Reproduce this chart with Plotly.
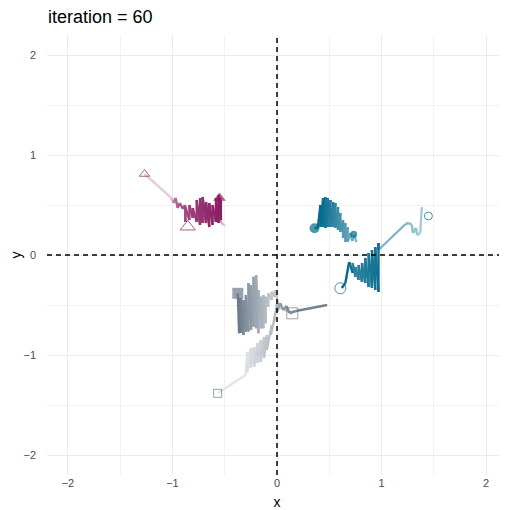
import plotly.graph_objects as go

# ---------------- data ----------------
# magenta (triangles)
m1_x = [-1.01, -0.99, -0.97, -0.95, -0.93, -0.90, -0.88, -0.876, -0.876, -0.838, -0.838,
        -0.806, -0.806, -0.768, -0.768, -0.736, -0.736, -0.711, -0.711, -0.679, -0.679,
        -0.648, -0.648, -0.616, -0.616, -0.584, -0.584, -0.559, -0.559, -0.537, -0.537, -0.55]
m1_y = [0.57, 0.52, 0.57, 0.47, 0.52, 0.46, 0.50, 0.33, 0.48, 0.35, 0.50,
        0.37, 0.47, 0.33, 0.55, 0.30, 0.57, 0.32, 0.58, 0.32, 0.53,
        0.28, 0.52, 0.30, 0.50, 0.33, 0.57, 0.32, 0.60, 0.35, 0.55, 0.57]
m0_x = [-1.267, -1.01]
m0_y = [0.81, 0.57]
m2_x = [-0.49, -0.51, -0.53, -0.545]
m2_y = [0.29, 0.30, 0.32, 0.35]

# teal (circles)
t1_x = [1.385, 1.37, 1.34, 1.33, 1.30, 1.29, 1.26, 1.23, 0.97]
t1_y = [0.48, 0.22, 0.20, 0.27, 0.22, 0.30, 0.32, 0.31, 0.05]
t1b_x = [0.97, 0.971, 0.971, 0.94, 0.94, 0.908, 0.908, 0.876, 0.876, 0.844, 0.844,
         0.813, 0.813, 0.78, 0.78, 0.75, 0.75, 0.724, 0.724]
t1b_y = [0.05, 0.12, -0.37, 0.08, -0.35, 0.05, -0.33, 0.02, -0.32, -0.03, -0.28,
         -0.08, -0.27, -0.10, -0.25, -0.12, -0.22, -0.08, -0.18]
t2_x = [0.724, 0.70, 0.69, 0.654, 0.62]
t2_y = [-0.18, -0.10, -0.07, -0.28, -0.33]
t3_x = [0.76, 0.74, 0.72, 0.70, 0.676, 0.676, 0.654, 0.654, 0.632, 0.632, 0.606, 0.606,
        0.584, 0.584, 0.559, 0.559, 0.537, 0.537, 0.511, 0.511, 0.486, 0.486, 0.463, 0.463,
        0.441, 0.441, 0.416, 0.416, 0.39, 0.36]
t3_y = [0.13, 0.20, 0.14, 0.22, 0.13, 0.28, 0.13, 0.32, 0.17, 0.35, 0.23, 0.42,
        0.25, 0.48, 0.27, 0.52, 0.28, 0.53, 0.28, 0.55, 0.28, 0.57, 0.27, 0.58,
        0.28, 0.57, 0.28, 0.50, 0.27, 0.27]

# slate (squares)
s1_x = [-0.568, -0.30, -0.283, -0.283, -0.251, -0.251, -0.219, -0.219, -0.187, -0.187,
        -0.156, -0.156, -0.124, -0.124, -0.098, -0.098, -0.05, -0.06, -0.02, -0.03,
        0.003, 0.003]
s1_y = [-1.383, -1.20, -0.97, -1.17, -0.93, -1.13, -0.92, -1.12, -0.88, -1.08,
        -0.85, -1.07, -0.82, -1.03, -0.80, -0.95, -0.70, -0.80, -0.62, -0.66,
        -0.48, -0.567]
s1b_x = [0.003, 0.03, 0.06, 0.09, 0.12, 0.18, 0.48]
s1b_y = [-0.567, -0.48, -0.55, -0.51, -0.58, -0.56, -0.50]
s2_x = [0.146, 0.02, -0.019, -0.019, -0.051, -0.051, -0.083, -0.083, -0.108, -0.108,
        -0.130, -0.130, -0.152, -0.152, -0.178, -0.178, -0.200, -0.200, -0.225, -0.225,
        -0.248, -0.248, -0.273, -0.273, -0.298, -0.298, -0.321, -0.321, -0.345, -0.345,
        -0.362, -0.362, -0.375]
s2_y = [-0.583, -0.52, -0.35, -0.42, -0.367, -0.45, -0.383, -0.517, -0.417, -0.683,
        -0.40, -0.733, -0.417, -0.733, -0.35, -0.783, -0.20, -0.733, -0.217, -0.717,
        -0.30, -0.75, -0.283, -0.767, -0.40, -0.767, -0.45, -0.80, -0.43, -0.78,
        -0.433, -0.783, -0.383]

# start (open) and current (filled) points
open_pts = {
    "maroon": ([-1.267, -0.854], [0.81, 0.283]),
    "teal": ([1.448, 0.606], [0.39, -0.333]),
    "slate": ([-0.568, 0.146], [-1.383, -0.583]),
}
filled_pts = {
    "maroon": ([-0.55], [0.57]),
    "teal": ([0.359, 0.733], [0.267, 0.207]),
    "slate": ([-0.375], [-0.383]),
}

title_text = "iteration = 60"
tick_vals = [-2, -1, 0, 1, 2]
tick_text = ["\u22122", "\u22121", "0", "1", "2"]

# ---------------- styles ----------------
COL = {"maroon": "#8B1C62", "teal": "#00688B", "slate": "#6C7B8B"}
SYM = {"maroon": "triangle-up", "teal": "circle", "slate": "square"}
open_sizes = {"maroon": [9, 13], "teal": [8, 11], "slate": [8, 11]}
filled_sizes = {"maroon": [11], "teal": [10, 7], "slate": [11]}
FONT = "Liberation Sans, Arial, sans-serif"

# the page body has an 8px default margin, so the figure is drawn 8px in
PAGE_OFF = 8
W, H = 507 - PAGE_OFF, 510 - PAGE_OFF


def blend(hexcol, a):
    r, g, b = int(hexcol[1:3], 16), int(hexcol[3:5], 16), int(hexcol[5:7], 16)
    f = lambda c: int(round(255 + (c - 255) * a))
    return f"rgb({f(r)},{f(g)},{f(b)})"


# (x, y, colour key, start alpha, end alpha, ramp exponent)
trails = [
    (m0_x, m0_y, "maroon", 0.22, 0.25, 1.0),
    (m1_x, m1_y, "maroon", 0.35, 1.0, 0.25),
    (m2_x, m2_y, "maroon", 0.2, 0.45, 1.0),
    (t1_x, t1_y, "teal", 0.35, 0.5, 1.0),
    (t1b_x, t1b_y, "teal", 0.95, 0.8, 1.0),
    (t2_x, t2_y, "teal", 0.95, 1.0, 1.0),
    (t3_x, t3_y, "teal", 0.5, 1.0, 0.8),
    (s1_x, s1_y, "slate", 0.2, 0.55, 1.0),
    (s1b_x, s1b_y, "slate", 0.7, 0.95, 1.0),
    (s2_x, s2_y, "slate", 0.4, 1.0, 1.3),
]

segs = []
for xs, ys, key, a0, a1, gam in trails:
    n = len(xs) - 1
    for i in range(n):
        t = i / max(n - 1, 1)
        a = a0 + (a1 - a0) * (t ** gam)
        segs.append((a, xs[i:i + 2], ys[i:i + 2], key))
segs.sort(key=lambda s: s[0])

fig = go.Figure()
for a, sx, sy, key in segs:
    fig.add_trace(go.Scatter(x=sx, y=sy, mode="lines",
                             line=dict(color=blend(COL[key], a), width=2.4),
                             hoverinfo="skip", showlegend=False))

for key in COL:
    ox, oy = open_pts[key]
    fig.add_trace(go.Scatter(x=ox, y=oy, mode="markers", showlegend=False,
                             marker=dict(symbol=SYM[key] + "-open", size=open_sizes[key],
                                         color=COL[key], line=dict(width=1, color=COL[key]))))
    fx, fy = filled_pts[key]
    fig.add_trace(go.Scatter(x=fx, y=fy, mode="markers", showlegend=False,
                             marker=dict(symbol=SYM[key], size=filled_sizes[key],
                                         color=COL[key], line=dict(width=0))))

fig.add_vline(x=0, line=dict(color="black", width=1.5, dash="5px,4px"))
fig.add_hline(y=0, line=dict(color="black", width=1.5, dash="5px,4px"))

axis_common = dict(
    range=[-2.2, 2.2], tickvals=tick_vals, ticktext=tick_text, automargin=False,
    showgrid=True, gridcolor="#EBEBEB", gridwidth=1,
    minor=dict(dtick=0.5, tick0=0, showgrid=True, gridcolor="#F2F2F2", gridwidth=0.6),
    zeroline=False, showline=False, ticks="",
    tickfont=dict(size=11, color="#4D4D4D", family=FONT),
    title_font=dict(size=14, color="black", family=FONT),
)
fig.update_xaxes(**axis_common, title_text="x", title_standoff=9)
fig.update_yaxes(**axis_common, title_text="y", title_standoff=9, ticklabelstandoff=10)

fig.update_layout(
    width=W, height=H,
    margin=dict(l=47 - PAGE_OFF, r=0, t=35 - PAGE_OFF, b=35, autoexpand=False),
    plot_bgcolor="white", paper_bgcolor="white",
    title=dict(text=title_text, x=(48 - PAGE_OFF) / W, xanchor="left", xref="container",
               y=1 - (17 - PAGE_OFF) / H, yanchor="middle", yref="container", automargin=False,
               font=dict(size=18, color="black", family=FONT)),
    showlegend=False,
)

fig.write_html("out.html")
